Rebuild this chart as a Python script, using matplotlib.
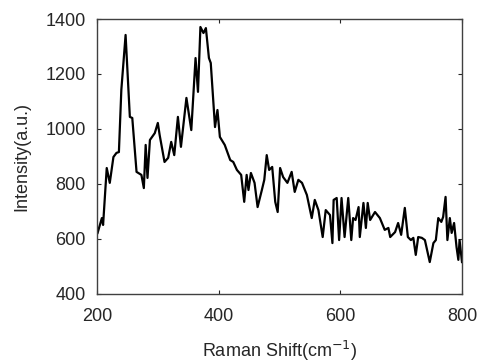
import numpy as np
import matplotlib.pyplot as plt

plt.rcParams['font.family'] = ['Liberation Sans', 'DejaVu Sans']

# Raman shift (cm^-1) and intensity (a.u.)
shift = [201, 208, 210, 216, 221, 227, 232, 236, 240, 247, 254, 258, 265, 273,
         277, 280, 283, 287, 295, 300, 303, 311, 317, 322, 327, 333, 338, 347,
         355, 362, 366, 370, 375, 379, 384, 387, 394, 398, 402, 410, 419, 424,
         430, 437, 442, 446, 449, 453, 459, 464, 471, 475, 479, 483, 488, 493,
         497, 501, 506, 513, 520, 525, 531, 537, 545, 553, 558, 564, 571, 576,
         583, 587, 589, 594, 598, 602, 607, 613, 618, 621, 625, 630, 632, 638,
         642, 645, 649, 657, 665, 673, 679, 682, 690, 695, 700, 706, 711, 716,
         720, 724, 728, 734, 739, 747, 753, 757, 761, 766, 769, 773, 776, 780,
         783, 787, 791, 794, 796, 800]
intensity = [622, 676, 651, 858, 804, 898, 913, 916, 1142, 1342, 1044, 1040, 844, 833,
             785, 942, 822, 960, 985, 1022, 978, 880, 895, 953, 905, 1044, 935, 1113,
             996, 1258, 1135, 1371, 1349, 1367, 1258, 1240, 1007, 1069, 971, 942, 887, 880,
             851, 833, 735, 833, 778, 840, 804, 716, 778, 815, 905, 851, 862, 735,
             698, 858, 825, 804, 844, 771, 815, 804, 760, 676, 742, 705, 607, 705,
             687, 585, 742, 749, 596, 749, 607, 749, 596, 676, 669, 716, 607, 731,
             640, 731, 669, 698, 676, 633, 640, 607, 625, 658, 615, 713, 607, 596,
             604, 542, 607, 604, 596, 516, 585, 596, 676, 662, 680, 753, 596, 676,
             622, 658, 571, 524, 596, 516]

fig = plt.figure(figsize=(4.79, 3.62), dpi=100)
ax = fig.add_axes([0.2025, 0.188, 0.762, 0.7595])
ax.plot(shift, intensity, color='black', linewidth=1.6)

ax.set_xlim(200, 800)
ax.set_ylim(400, 1400)
ax.set_xticks([200, 400, 600, 800])
ax.set_yticks([400, 600, 800, 1000, 1200, 1400])
ax.tick_params(direction='in', top=True, right=True, length=3, width=0.8,
               labelsize=13, colors='#262626')
ax.xaxis.set_tick_params(pad=10)
ax.yaxis.set_tick_params(pad=8)
for s in ax.spines.values():
    s.set_color('#404040')
    s.set_linewidth(1.0)

ax.set_xlabel('Raman Shift(cm$^{-1}$)', fontsize=13, color='#262626', labelpad=10)
ax.set_ylabel('Intensity(a.u.)', fontsize=13, color='#262626', labelpad=11)

fig.savefig('out.png', dpi=100)
